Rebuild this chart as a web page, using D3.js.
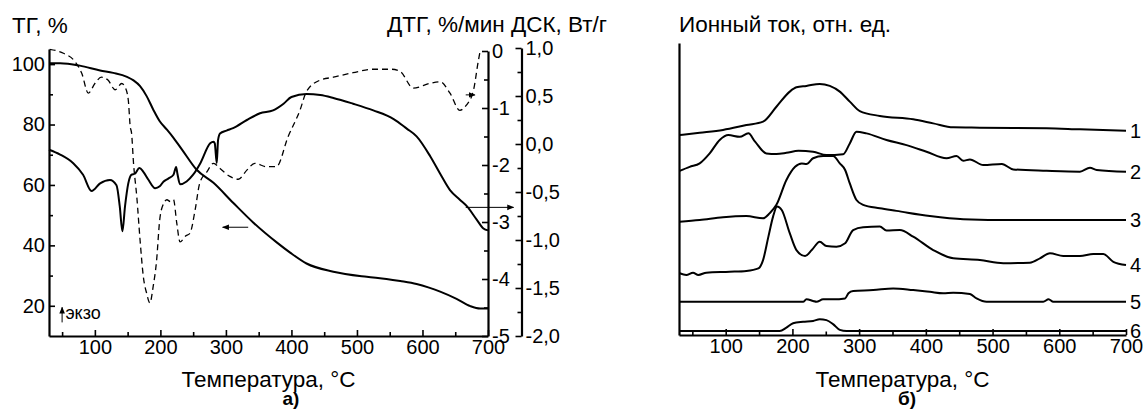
<!DOCTYPE html>
<html>
<head>
<meta charset="utf-8">
<script src="https://cdn.jsdelivr.net/npm/d3@7"></script>
<style>
  body { margin: 0; background: #fff; }
  svg text { font-family: "Liberation Sans", Arial, sans-serif; fill: #000; }
</style>
</head>
<body>
<div id="chart"></div>
<script>
// ---- data ----
// panel a) : temperature, value
var tgCurve = [[30,100.3],[47,100.3],[77,99.5],[108,97.9],[128,97.1],[149,95.8],[159,94.6],[169,92.7],[179,89.4],[189,85],[199,81.1],[210,78.3],[220,75.6],[233,71.7],[255,65.1],[281,60.7],[311,54.1],[342,47.5],[378,40.9],[398,37.6],[423,34],[464,31.3],[515,29.6],[545,28.9],[566,28.2],[591,27.2],[610,26],[627,24.7],[652,22.3],[673,19.9],[688,19.1],[700,19.1]];

var dtgCurve = [[31,0.03],[52,-0.04],[70,-0.19],[80,-0.39],[90,-0.74],[100,-0.57],[110,-0.46],[120,-0.51],[131,-0.68],[141,-0.57],[146,-0.63],[151,-0.86],[154,-1.33],[156,-1.44],[159,-1.97],[164,-2.56],[169,-3.32],[174,-3.96],[179,-4.25],[184,-4.42],[189,-4.13],[194,-3.7],[199,-2.96],[204,-2.7],[210,-2.61],[215,-2.64],[220,-2.61],[225,-3.02],[230,-3.35],[238,-3.25],[245,-3.2],[253,-2.79],[260,-2.32],[271,-2.12],[281,-1.97],[291,-2.06],[306,-2.2],[319,-2.25],[332,-2.09],[344,-1.97],[362,-2.03],[377,-2.03],[395,-1.5],[413,-1.04],[423,-0.71],[444,-0.51],[464,-0.46],[494,-0.38],[525,-0.32],[553,-0.32],[566,-0.36],[586,-0.65],[611,-0.57],[627,-0.54],[642,-0.74],[657,-1.04],[667,-0.95],[678,-0.68],[685,-0.19],[688,0]];

var dscCurve = [[30,-0.06],[47,-0.11],[67,-0.2],[82,-0.32],[95,-0.49],[108,-0.41],[123,-0.375],[133,-0.43],[138,-0.65],[142,-0.91],[146,-0.65],[151,-0.41],[156,-0.32],[161,-0.31],[168,-0.25],[174,-0.29],[182,-0.375],[192,-0.46],[199,-0.44],[205,-0.39],[212,-0.36],[220,-0.32],[224,-0.24],[226,-0.31],[230,-0.42],[240,-0.39],[250,-0.32],[261,-0.2],[276,0.007],[281,0.024],[283,0.007],[286,-0.2],[288,0.04],[291,0.11],[301,0.14],[311,0.165],[332,0.25],[352,0.32],[372,0.35],[388,0.42],[400,0.49],[423,0.52],[444,0.51],[464,0.48],[494,0.42],[525,0.35],[556,0.26],[576,0.16],[591,0.08],[612,-0.13],[627,-0.31],[642,-0.48],[657,-0.58],[668,-0.65],[683,-0.79],[693,-0.88],[700,-0.9]];

// panel б) : ion current, relative units (curves are stacked)
var ion1 = [[31,68.5],[61,69.3],[96,70.3],[131,72],[156,73.2],[176,78.4],[196,83.7],[206,85.2],[221,85.7],[241,86.4],[256,85.7],[271,83.7],[286,80.2],[301,76.9],[331,75.2],[381,74],[411,72.6],[441,71.2],[481,71.1],[581,70.9],[631,70.5],[700,70]];
var ion2 = [[31,56],[46,57.4],[61,58.6],[76,62.1],[91,66.8],[104,68.5],[121,67.9],[134,69.1],[144,66.2],[161,62.1],[176,61.9],[191,62.3],[209,63],[231,62.7],[251,61.5],[276,61.8],[286,65.6],[296,69.7],[311,69.1],[341,66.8],[371,65],[401,62.7],[431,60.4],[446,61.2],[456,59.5],[466,60],[486,58],[514,58.4],[531,56.5],[581,56],[631,55.7],[646,57.1],[656,56.3],[700,55.7]];
var ion3 = [[31,38.2],[61,38.8],[96,39.8],[131,40.2],[156,39.4],[166,41.2],[176,44.1],[191,52.8],[204,57.4],[214,58.6],[221,58.4],[231,60.4],[246,61.2],[261,61.2],[271,58.6],[279,56.3],[286,51.6],[296,45.8],[306,44.1],[331,42.9],[356,42],[406,40.2],[456,39.1],[531,38.8],[700,38.8]];
var ion4 = [[31,20.2],[41,19.6],[51,20.4],[59,19.6],[71,20.4],[106,20.7],[131,21],[149,21.9],[156,24.8],[164,33],[171,40],[177,43.5],[184,42.3],[196,34.2],[206,28.3],[219,26.2],[229,28.3],[241,31.2],[251,29.7],[266,29.5],[279,30.7],[291,35.3],[306,36.3],[331,36.5],[341,35.1],[361,35.3],[381,33],[411,28.3],[441,25.4],[481,24.8],[516,23.7],[556,23.9],[571,25.4],[586,27.2],[606,26.2],[631,26.2],[651,26.9],[666,26.9],[681,24.2],[700,23.1]];
var ion5 = [[31,10.2],[216,10.2],[221,11.1],[231,10.5],[236,10.2],[246,11.1],[261,11.1],[279,11.4],[284,13.2],[291,14],[321,14.3],[351,14.9],[381,14.3],[406,13.7],[426,13.2],[441,13.4],[466,12.9],[476,11.4],[491,10.2],[576,10.2],[584,11.1],[591,10.2],[700,10.2]];
var ion6 = [[31,0],[181,0],[191,1.2],[201,2.7],[216,3.2],[231,3.5],[241,4.1],[251,3.8],[261,2.4],[271,0.4],[281,0],[700,0]];
var ionCurves = [ion1, ion2, ion3, ion4, ion5, ion6];
var ionLabels = ["1", "2", "3", "4", "5", "6"];

// ticks
var xTicks = [100, 200, 300, 400, 500, 600, 700];
var xMinor = [50, 150, 250, 350, 450, 550, 650];
var tgTicks = [20, 40, 60, 80, 100];
var tgMinor = [30, 50, 70, 90];
var dtgTicks = [0, -1, -2, -3, -4, -5];
var dtgMinor = [-0.5, -1.5, -2.5, -3.5, -4.5];
var dscTicks = [1, 0.5, 0, -0.5, -1, -1.5, -2];
var dscMinor = [0.75, 0.25, -0.25, -0.75, -1.25, -1.75];

// Width and height
var w = 1146;
var h = 414;
var tickFont = 20;
var titleFont = 22.5;

var svg = d3
  .select("#chart")
  .append("svg")
  .attr("width", w)
  .attr("height", h);

// arrow head
svg
  .append("defs")
  .append("marker")
  .attr("id", "head")
  .attr("viewBox", "0 0 10 10")
  .attr("refX", 9)
  .attr("refY", 5)
  .attr("markerWidth", 7)
  .attr("markerHeight", 7)
  .attr("markerUnits", "userSpaceOnUse")
  .attr("orient", "auto")
  .append("path")
  .attr("d", "M0,1L10,5L0,9Z")
  .attr("fill", "#000");

// ---------- panel a) ----------
var xScale = d3.scaleLinear().domain([30, 700]).range([49, 488]);
var tgScale = d3.scaleLinear().domain([10, 105]).range([336, 49]);
var dtgScale = d3.scaleLinear().domain([-5, 0]).range([336, 51]);
var dscScale = d3.scaleLinear().domain([-2, 1]).range([336, 48]);
var dscX = 521.5;

function commaFmt(d) {
  return d3.format(".1f")(d).replace(".", ",");
}

// draw an axis with inward major + minor ticks
function drawAxis(axisFn, scale, major, minor, fmt, transform, showDomain) {
  var g = svg.append("g").attr("transform", transform);
  g.append("g")
    .attr("class", "minor")
    .call(axisFn(scale).tickValues(minor).tickSizeInner(-4).tickSizeOuter(0).tickFormat(""))
    .call(function (s) { s.select(".domain").remove(); });
  var mj = g.append("g")
    .call(axisFn(scale).tickValues(major).tickSizeInner(-6).tickSizeOuter(0).tickPadding(4).tickFormat(fmt));
  if (!showDomain) mj.select(".domain").remove();
  g.selectAll(".domain").attr("stroke-width", 2.2);
  g.selectAll(".tick line").attr("stroke-width", 1.6);
  g.selectAll("text").attr("font-size", tickFont).attr("fill", "#000");
  return g;
}

// x axis
drawAxis(d3.axisBottom, xScale, xTicks, xMinor, d3.format("d"),
  "translate(0," + tgScale(10) + ")", true);
// TG axis (left)
drawAxis(d3.axisLeft, tgScale, tgTicks, tgMinor, d3.format("d"),
  "translate(" + xScale(30) + ",0)", true);
// DTG axis (right side of plot)
drawAxis(d3.axisRight, dtgScale, dtgTicks, dtgMinor, function (d) { return String(d).replace("−", "-"); },
  "translate(" + xScale(700) + ",0)", true);
// DSC axis
drawAxis(d3.axisRight, dscScale, dscTicks, dscMinor, function (d) { return commaFmt(d).replace("−", "-"); },
  "translate(" + dscX + ",0)", true);

// curves
var tgLine = d3.line()
  .x(function (d) { return xScale(d[0]); })
  .y(function (d) { return tgScale(d[1]); })
  .curve(d3.curveMonotoneX);
var dtgLine = d3.line()
  .x(function (d) { return xScale(d[0]); })
  .y(function (d) { return dtgScale(d[1]); })
  .curve(d3.curveMonotoneX);
var dscLine = d3.line()
  .x(function (d) { return xScale(d[0]); })
  .y(function (d) { return dscScale(d[1]); })
  .curve(d3.curveMonotoneX);

svg.append("path").datum(dtgCurve).attr("d", dtgLine)
  .attr("fill", "none").attr("stroke", "#000").attr("stroke-width", 1.3)
  .attr("stroke-dasharray", "6,4");
svg.append("path").datum(tgCurve).attr("d", tgLine)
  .attr("fill", "none").attr("stroke", "#000").attr("stroke-width", 2);
svg.append("path").datum(dscCurve).attr("d", dscLine)
  .attr("fill", "none").attr("stroke", "#000").attr("stroke-width", 2);

// arrows pointing to the axes
function arrow(x1, y1, x2, y2) {
  svg.append("line")
    .attr("x1", x1).attr("y1", y1).attr("x2", x2).attr("y2", y2)
    .attr("stroke", "#000").attr("stroke-width", 1)
    .attr("marker-end", "url(#head)");
}
arrow(xScale(334), tgScale(46), xScale(295), tgScale(46));
arrow(xScale(666), dtgScale(-0.77), xScale(680), dtgScale(-0.77));
arrow(xScale(666), dscScale(-0.66), xScale(739), dscScale(-0.66));
arrow(xScale(50), tgScale(14.5), xScale(50), tgScale(19.5));

svg.append("text").attr("x", xScale(55)).attr("y", tgScale(15.6))
  .attr("font-size", 18).text("экзо");

// titles
svg.append("text").attr("x", 12).attr("y", 33).attr("font-size", titleFont).text("ТГ, %");
svg.append("text").attr("x", 387).attr("y", 32).attr("font-size", titleFont).text("ДТГ, %/мин ДСК, Вт/г");
svg.append("text").attr("x", xScale(365)).attr("y", 387).attr("font-size", titleFont)
  .attr("text-anchor", "middle").text("Температура, °C");
svg.append("text").attr("x", 291).attr("y", 405).attr("font-size", 19)
  .attr("font-weight", "bold").attr("text-anchor", "middle").text("а)");

// ---------- panel б) ----------
var xR = d3.scaleLinear().domain([30, 700]).range([679, 1126]);
var yR = d3.scaleLinear().domain([-1.4, 100.7]).range([335, 43]);

var gb = drawAxis(d3.axisBottom, xR, xTicks, xMinor, d3.format("d"),
  "translate(0," + yR(-1.4) + ")", true);
gb.selectAll(".minor .tick line").attr("y2", -3.5);

svg.append("g")
  .attr("transform", "translate(" + xR(30) + ",0)")
  .call(d3.axisLeft(yR).tickValues([]).tickSizeOuter(0))
  .select(".domain").attr("stroke-width", 2.2);

var ionLine = d3.line()
  .x(function (d) { return xR(d[0]); })
  .y(function (d) { return yR(d[1]); })
  .curve(d3.curveMonotoneX);

svg.selectAll(".ion")
  .data(ionCurves)
  .enter()
  .append("path")
  .attr("class", "ion")
  .attr("d", ionLine)
  .attr("fill", "none")
  .attr("stroke", "#000")
  .attr("stroke-width", 2);

svg.selectAll(".ionlab")
  .data(ionCurves)
  .enter()
  .append("text")
  .attr("class", "ionlab")
  .attr("x", xR(700) + 4)
  .attr("y", function (d) { return yR(d[d.length - 1][1]); })
  .attr("dy", "0.35em")
  .attr("font-size", tickFont)
  .text(function (d, i) { return ionLabels[i]; });

svg.append("text").attr("x", 679).attr("y", 32).attr("font-size", titleFont).text("Ионный ток, отн. ед.");
svg.append("text").attr("x", xR(365)).attr("y", 387).attr("font-size", titleFont)
  .attr("text-anchor", "middle").text("Температура, °C");
svg.append("text").attr("x", 907).attr("y", 405).attr("font-size", 19)
  .attr("font-weight", "bold").attr("text-anchor", "middle").text("б)");
</script>
</body>
</html>
